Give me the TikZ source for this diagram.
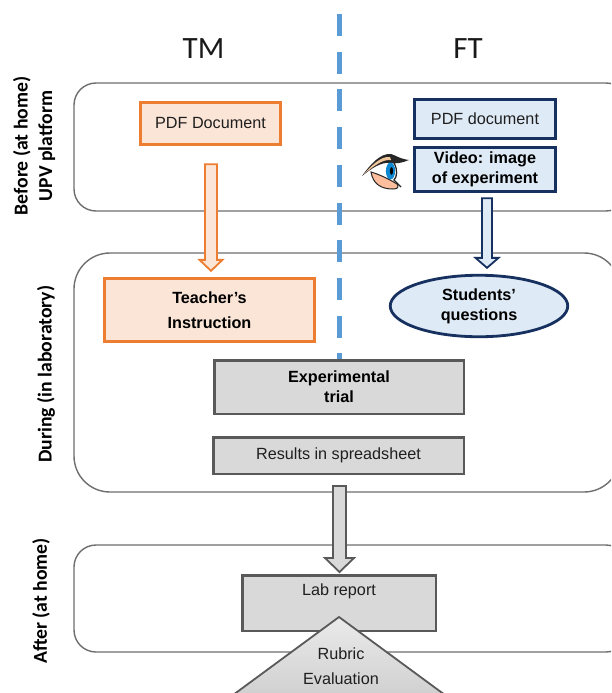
\documentclass[tikz,border=0pt]{standalone}
\usepackage{fontspec}
\setmainfont{Liberation Sans}
\newfontfamily\calib{Carlito}
\usetikzlibrary{calc,positioning,shapes.geometric}
\definecolor{orangeline}{HTML}{ED7D31}
\definecolor{orangefill}{HTML}{FBE5D6}
\definecolor{navyline}{HTML}{16305F}
\definecolor{bluefill}{HTML}{DEEAF6}
\definecolor{dashblue}{HTML}{5B9BD5}
\definecolor{panelline}{HTML}{6E6E6E}
\definecolor{grayline}{HTML}{595959}
\definecolor{grayfill}{HTML}{D9D9D9}
\tikzset{
  panel/.style={draw=panelline,line width=1.4pt,fill=white},
  boxbase/.style={draw,rectangle,inner sep=0pt,align=center,font=\fontsize{16.2}{20}\selectfont,text=black!88},
  boldtext/.style={font=\fontsize{16.2}{#1}\selectfont\bfseries,text=black},
  orangebox/.style={boxbase,draw=orangeline,fill=orangefill,line width=2.8pt},
  bluebox/.style={boxbase,draw=navyline,fill=bluefill,line width=2.8pt},
  graybox/.style={boxbase,draw=grayline,fill=grayfill,line width=2.5pt},
  phase/.style={rotate=90,align=center,font=\calib\fontsize{19.7}{24.5}\selectfont\bfseries,text=black},
  head/.style={font=\calib\fontsize{31}{34}\selectfont,text=black!90},
  plain/.style={font=\fontsize{16.2}{20}\selectfont,text=black!88},
  orangearrow/.style={draw=orangeline,fill=orangefill,line width=1.8pt,line join=miter},
  bluearrow/.style={draw=navyline,fill=bluefill,line width=1.8pt,line join=miter},
  grayarrow/.style={draw=grayline,fill=grayfill,line width=1.8pt,line join=miter},
}
% start, end, half shaft, half head, head length, style
\newcommand{\blockarrow}[6]{%
  \draw[#6] ($(#1)+(-#3,0)$) -- ($(#1)+(#3,0)$) -- ($(#2)+(#3,-#5)$) -- ($(#2)+(#4,-#5)$)
    -- (#2) -- ($(#2)+(-#4,-#5)$) -- ($(#2)+(-#3,-#5)$) -- cycle;}
\begin{document}
\begin{tikzpicture}[x=1pt,y=-1pt]
\useasboundingbox (0,0) rectangle (611,693);
\clip (0,0) rectangle (611,693);
% panels
\draw[panel,rounded corners=22pt] (74,83) rectangle (628,211);
\draw[panel,rounded corners=36pt] (74,253) rectangle (620,492);
\draw[panel,rounded corners=22pt] (74,545) rectangle (628,652);
% dashed divider
\coordinate (divtop) at (339,14);
\coordinate (divbot) at (339,362);
\draw[dashblue,line width=5pt,dash pattern=on 22pt off 15.7pt] (divtop) -- (divbot);
% headings
\node[head] (tm) at (203.5,49) {TM};
\node[head] (ft) at (468,49) {FT};
% phase labels
\node[phase] (before) at (34,146) {Before (at home)\\UPV platform};
\node[phase] (during) at (46,374) {During (in laboratory)};
\node[phase] (after) at (41,601) {After (at home)};
% boxes
\node[orangebox,minimum width=140.5pt,minimum height=42.5pt] (pdftm) at (210.5,123.5) {PDF Document};
\node[orangebox,minimum width=210.5pt,minimum height=63.5pt,boldtext=25] (teacher) at (209.5,310) {Teacher’s\\Instruction};
\node[bluebox,minimum width=141.5pt,minimum height=39.5pt] (pdfft) at (485,119) {PDF document};
\node[bluebox,minimum width=141.5pt,minimum height=44.5pt,boldtext=20.5] (video) at (485,169.5) {Video: image\\of experiment};
\node[ellipse,draw=navyline,fill=bluefill,line width=2.8pt,inner sep=0pt,minimum width=177.5pt,minimum height=61.5pt,align=center,boldtext=20] (questions) at (479,306) {Students'\\questions};
\node[graybox,minimum width=249.5pt,minimum height=53.5pt,boldtext=20] (trial) at (339,387) {Experimental\\trial};
\node[graybox,minimum width=250.5pt,minimum height=36.5pt] (results) at (338.5,455.5) {Results in spreadsheet};
% lab report
\node[graybox,minimum width=193.5pt,minimum height=55.5pt] (report) at (339,603) {};
\node[plain] (reporttext) at (339,591) {Lab report};
% arrows
\coordinate (a1s) at ($(pdftm.south)+(0.5,18)$);
\coordinate (a1e) at ($(teacher.north)+(1.5,-6)$);
\blockarrow{a1s}{a1e}{6}{11.5}{11}{orangearrow}
\coordinate (a2s) at ($(video.south)+(2,5)$);
\coordinate (a2e) at ($(questions.north)+(8,-6)$);
\blockarrow{a2s}{a2e}{5}{11.5}{10}{bluearrow}
\coordinate (a3s) at ($(results.south)+(1,11)$);
\coordinate (a3e) at ($(report.north)+(0.5,-2)$);
\blockarrow{a3s}{a3e}{6.5}{14.5}{14}{grayarrow}
% triangle
\path[shade,top color=white!92!black,bottom color=grayfill!92!black,draw=none] (339,617) -- (199,720) -- (479,720) -- cycle;
\node[plain] (rubric) at (341,654) {Rubric};
\node[plain] (evaluation) at (341,679) {Evaluation};
\draw[grayline,line width=1.8pt,line join=miter] (199,720) -- (339,617) -- (479,720);
% eye: brow
\fill[black!85] (362,176) .. controls (370,165) and (380,153) .. (391,154) .. controls (395,155) and (400,159) .. (409,160) .. controls (402,163) and (396,164) .. (390,163) .. controls (381,162) and (372,168) .. (362,176) -- cycle;
\fill[orange!45!brown!45!white] (364,174) .. controls (372,165) and (381,156) .. (390,157) -- (391,160) .. controls (382,159) and (373,167) .. (364,174) -- cycle;
\fill[white] (373,172) .. controls (379,166) and (386,162) .. (393,163) .. controls (396,170) and (396,176) .. (393,181) .. controls (386,178) and (380,174) .. (373,172) -- cycle;
\fill[cyan!70!blue] (390.5,171) ellipse (4.6pt and 8.5pt);
\fill[black] (391.5,171) ellipse (1.6pt and 3.8pt);
\filldraw[draw=black!85,fill=orange!35!pink!75!white,line width=1pt] (371,172) .. controls (378,174) and (387,178) .. (397,184) .. controls (399,187) and (398,189) .. (393,189) .. controls (381,189) and (373,184) .. (371,172) -- cycle;
\draw[black!85,line width=1.3pt] (394,163) .. controls (398,170) and (397,177) .. (394,180) -- (401,187);
\end{tikzpicture}
\end{document}
